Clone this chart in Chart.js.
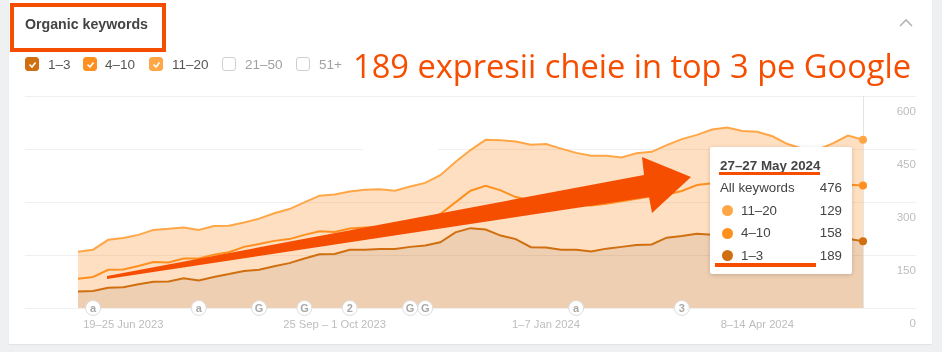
<!DOCTYPE html>
<html>
<head>
<meta charset="utf-8">
<title>Organic keywords</title>
<script src="https://cdn.jsdelivr.net/npm/chart.js@4"></script>
<style>
  html, body { margin: 0; padding: 0; background: #eef0f2; }
  body { width: 942px; height: 352px; overflow: hidden; position: relative; font-family: "Liberation Sans", Arial, sans-serif; }
  #card { position: absolute; left: 9px; top: 0; width: 923px; height: 344px; background: #fff; box-shadow: 0 1px 1px #e2e4e6; }
  #chartWrap { position: absolute; left: 0; top: 0; }
  .abs { position: absolute; white-space: nowrap; }
  #title { left: 25px; top: 16px; font-size: 14.2px; font-weight: bold; color: #444; }
  .box { position: absolute; top: 57px; width: 14px; height: 14px; border-radius: 3px; box-sizing: border-box; border: 1px solid #cfcfcf; background: #fff; }
  .box svg { position: absolute; left: 1px; top: 1px; }
  .lab { position: absolute; top: 57px; font-size: 13.5px; line-height: 15px; }
  #tip { position: absolute; left: 710px; top: 147px; width: 142px; height: 127px; background: #fff; border-radius: 2px; box-shadow: 0 1px 4px rgba(0,0,0,.18); }
  #tip div { position: absolute; white-space: nowrap; font-size: 13.3px; line-height: 16px; color: #444; }
  #tip .dot { width: 11px; height: 11px; border-radius: 50%; left: 12px; }
  #tip .num { right: 10px; }
  #overlay { position: absolute; left: 0; top: 0; }
</style>
</head>
<body>
<div id="card"></div>
<div id="chartWrap"><canvas id="keywordsChart" width="942" height="352"></canvas></div>

<div class="abs" id="title">Organic keywords</div>
<div id="legend"></div>

<div id="tip">
  <div style="left:10px;top:11px;font-weight:bold;font-size:13.4px">27–27 May 2024</div>
  <div style="left:10px;top:33px">All keywords</div><div class="num" style="top:33px">476</div>
  <div class="dot" style="top:58px;background:#ffa747"></div><div style="left:31px;top:56px">11–20</div><div class="num" style="top:56px">129</div>
  <div class="dot" style="top:81px;background:#ff9020"></div><div style="left:31px;top:78px">4–10</div><div class="num" style="top:78px">158</div>
  <div class="dot" style="top:103px;background:#cf6f10"></div><div style="left:31px;top:101px">1–3</div><div class="num" style="top:101px">189</div>
</div>

<svg id="overlay" width="942" height="352">
  <!-- annotations painted over the screenshot -->
  <rect x="12" y="5" width="152" height="45" fill="none" stroke="#f54e00" stroke-width="4"/>
  <polyline points="900,26 906,20 912,26" fill="none" stroke="#b5b5b5" stroke-width="1.6"/>
  <text x="353" y="78" font-family="Open Sans" font-size="33" fill="#f54e00" textLength="558" lengthAdjust="spacingAndGlyphs">189 expresii cheie in top 3 pe Google</text>
  <polygon points="107,276 644,175 642,157 691,177 652,213 649,197 107,279" fill="#f54e00"/>
  <rect x="719" y="172" width="101" height="3" fill="#f54e00"/>
  <rect x="715" y="263" width="101" height="4" fill="#f54e00"/>
</svg>

<script>
// Weekly buckets, 29 May 2023 to 27 May 2024
const range1to3 = [47,48,57,59,67,74,75,84,78,88,96,105,108,118,127,140,152,153,165,165,167,167,173,177,186,214,226,222,205,195,172,171,165,165,160,168,173,178,180,199,204,210,207,207,207,205,205,205,203,202,199,196,189];
const range4to10 = [36,40,51,50,52,56,54,56,62,63,62,68,73,72,68,67,65,62,60,63,62,64,66,73,80,85,106,124,128,119,132,127,130,127,130,127,129,131,136,122,127,138,146,148,150,152,152,150,146,141,147,153,158];
const range11to20 = [76,77,85,89,88,91,95,88,81,81,75,69,72,78,85,92,101,106,105,107,107,101,105,104,110,114,115,130,142,157,158,166,156,147,141,136,124,129,126,140,147,142,152,156,144,142,129,109,102,105,120,139,129];

const tickWeeks = [3, 17, 31, 45];
const tickLabels = ["19–25 Jun 2023", "25 Sep – 1 Oct 2023", "1–7 Jan 2024", "8–14 Apr 2024"];
const yTicks = [0, 150, 300, 450, 600];
const eventWeeks = [1, 8, 12, 15, 18, 22, 23, 33, 40];
const eventLabels = ["a", "a", "G", "G", "2", "G", "G", "a", "3"];

const legendItems = [
    { name: "1–3", box: 25, text: 48, color: "#cf6f10" },
    { name: "4–10", box: 83, text: 105, color: "#ff9020" },
    { name: "11–20", box: 149, text: 172, color: "#ffa747" },
    { name: "21–50", box: 222, text: 245 },
    { name: "51+", box: 296, text: 319 }
];

// Checkbox row above the chart
const legend = document.getElementById("legend");
legendItems.forEach(item => {
    const box = document.createElement("div");
    box.className = "box";
    box.style.left = item.box + "px";
    if (item.color) {
        box.style.background = item.color;
        box.style.borderColor = item.color;
        box.innerHTML = '<svg width="11" height="11"><polyline points="2.5,5.5 5,8 8.5,3.5" fill="none" stroke="#fff" stroke-width="1.6"/></svg>';
    }
    legend.appendChild(box);
    const lab = document.createElement("div");
    lab.className = "lab";
    lab.style.left = item.text + "px";
    lab.style.color = item.color ? "#555" : "#a0a0a0";
    lab.textContent = item.name;
    legend.appendChild(lab);
});

const toPoints = values => values.map((y, i) => ({ x: i, y: y }));
const lastPointOnly = ctx => ctx.dataIndex === range1to3.length - 1 ? 4 : 0;

// Hover line, inset y labels and the event badges on the baseline
const extras = {
    id: "extras",
    beforeDatasetsDraw(chart) {
        const { ctx, scales: { x, y } } = chart;
        ctx.save();
        ctx.strokeStyle = "#e4e4e4";
        ctx.lineWidth = 1;
        const lineX = Math.round(x.getPixelForValue(range1to3.length - 1)) + 0.5;
        ctx.beginPath();
        ctx.moveTo(lineX, y.getPixelForValue(600));
        ctx.lineTo(lineX, y.getPixelForValue(0));
        ctx.stroke();
        // the source has a gap in the 450 gridline here
        ctx.fillStyle = "#fff";
        ctx.fillRect(363, y.getPixelForValue(450) - 2, 75, 4);
        ctx.restore();
    },
    afterDatasetsDraw(chart) {
        const { ctx, scales: { x, y } } = chart;
        ctx.save();
        ctx.font = '11.6px "Liberation Sans"';
        ctx.fillStyle = "#bdbdbd";
        ctx.textAlign = "right";
        ctx.textBaseline = "middle";
        yTicks.forEach(v => ctx.fillText(String(v), chart.chartArea.right, y.getPixelForValue(v) + 16));

        ctx.textAlign = "center";
        ctx.font = 'bold 11px "Liberation Sans"';
        eventWeeks.forEach((week, i) => {
            const px = x.getPixelForValue(week), py = y.getPixelForValue(0);
            ctx.beginPath();
            ctx.arc(px, py, 7.5, 0, Math.PI * 2);
            ctx.fillStyle = "#fff";
            ctx.fill();
            ctx.strokeStyle = "#dcdcdc";
            ctx.lineWidth = 1;
            ctx.stroke();
            ctx.fillStyle = "#a8a8a8";
            ctx.fillText(eventLabels[i], px, py + 0.5);
        });
        ctx.restore();
    }
};

const chart = new Chart(document.getElementById("keywordsChart").getContext("2d"), {
    type: "line",
    data: {
        datasets: [
            { label: "1–3", data: toPoints(range1to3), borderColor: "#cf6f10", backgroundColor: "rgba(200,100,5,0.31)", pointBackgroundColor: "#cf6f10", fill: "origin" },
            { label: "4–10", data: toPoints(range4to10), borderColor: "#ff9020", backgroundColor: "rgba(255,150,50,0.3)", pointBackgroundColor: "#ff9020", fill: "-1" },
            { label: "11–20", data: toPoints(range11to20), borderColor: "#ffa747", backgroundColor: "rgba(255,150,50,0.3)", pointBackgroundColor: "#ffa747", fill: "-1" }
        ]
    },
    options: {
        responsive: false,
        animation: false,
        layout: { padding: { left: 25, right: 26, top: 96, bottom: 0 } },
        elements: {
            line: { borderWidth: 2, tension: 0 },
            point: { radius: lastPointOnly, borderWidth: 0, hoverRadius: 4 }
        },
        plugins: { legend: { display: false }, tooltip: { enabled: false } },
        scales: {
            x: {
                type: "linear",
                min: -3.51,
                max: 55.51,
                afterFit: scale => { scale.height = 44; },
                afterBuildTicks: scale => { scale.ticks = tickWeeks.map(v => ({ value: v })); },
                grid: { display: false },
                border: { display: false },
                ticks: {
                    autoSkip: false,
                    maxRotation: 0,
                    padding: 2,
                    color: "#bdbdbd",
                    font: { family: "Liberation Sans", size: 11.2 },
                    callback: value => tickLabels[tickWeeks.indexOf(value)]
                }
            },
            y: {
                stacked: true,
                min: 0,
                max: 600,
                afterBuildTicks: scale => { scale.ticks = yTicks.map(v => ({ value: v })); },
                afterFit: scale => { scale.width = 0; },
                grid: { color: "#f0f0f0", lineWidth: 1, drawTicks: false },
                border: { display: false },
                ticks: { display: false }
            }
        }
    },
    plugins: [extras]
});
</script>
</body>
</html>
